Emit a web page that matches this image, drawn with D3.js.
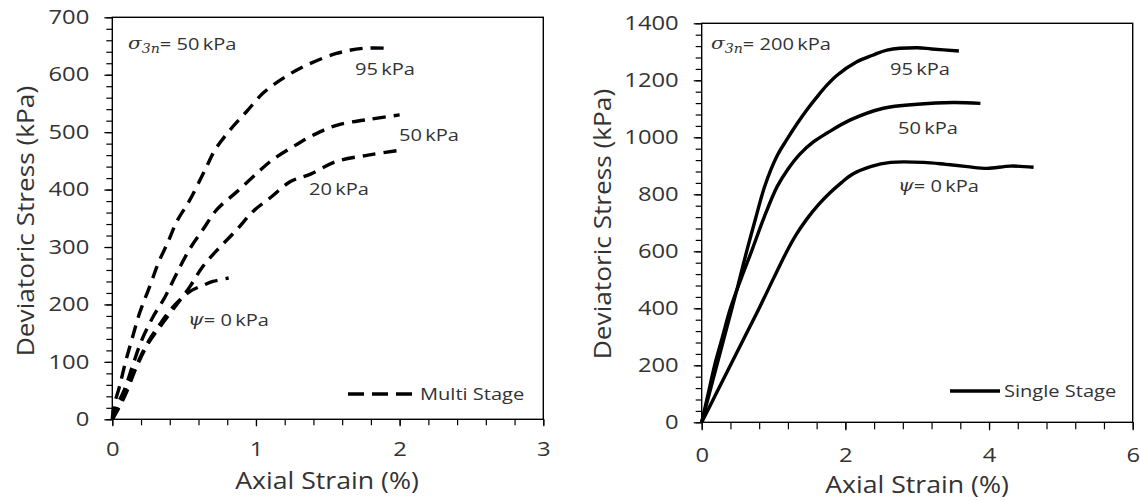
<!DOCTYPE html>
<html><head><meta charset="utf-8">
<script src="https://cdn.jsdelivr.net/npm/d3@7"></script>
<style>
body{margin:0;background:#fff}
text{font-family:'Open Sans',sans-serif;fill:#333}
</style>
</head><body>
<svg id="c" width="1140" height="500"></svg>
<script>
// ---------- DATA ----------
// Multi stage (left), sigma3n = 50 kPa
const multiStrain95 = [0,0.01,0.05,0.09,0.135,0.19,0.26,0.32,0.39,0.45,0.54,0.645,0.715,0.82,0.935,1.05,1.19,1.33,1.56,1.75,1.92];
const multiStress95 = [0,22,57,98,138,185,231,272,310,345,382,434,469,504,536,568,594,614,637,646,646];
const multiStrain50 = [0,0.03,0.088,0.146,0.205,0.285,0.367,0.448,0.54,0.63,0.727,0.866,1.005,1.11,1.26,1.40,1.56,1.78,2.0];
const multiStress50 = [0,22,54,97,138,179,213,254,297,330,365,396,428,451,475,495,512,522,530];
const multiStrain20 = [0,0.05,0.1,0.17,0.25,0.332,0.437,0.54,0.63,0.75,0.866,0.98,1.11,1.24,1.38,1.56,1.78,1.99];
const multiStress20 = [0,22,48,92,132,161,196,231,266,300,330,362,388,414,427,449,460,468];
const multiStrain0 = [0,0.05,0.1,0.17,0.25,0.33,0.41,0.48,0.55,0.62,0.70,0.81];
const multiStress0 = [0,25,55,95,135,165,192,210,224,232,240,246];

// Single stage (right), sigma3n = 200 kPa
const singleStrain95 = [0,0.1,0.2,0.3,0.4,0.5,0.63,0.75,0.88,1.05,1.18,1.32,1.46,1.60,1.74,1.88,2.16,2.38,2.58,3.0,3.2,3.58];
const singleStress95 = [0,95,190,285,380,475,604,715,830,935,990,1045,1095,1140,1182,1217,1265,1288,1306,1314,1310,1303];
const singleStrain50 = [0,0.09,0.18,0.29,0.4,0.55,0.70,0.87,1.05,1.2,1.37,1.55,1.74,2.07,2.53,3.0,3.5,3.88];
const singleStress50 = [0,100,200,300,400,505,604,720,827,888,942,983,1014,1061,1102,1116,1122,1119];
const singleStrain0 = [0,0.2,0.4,0.6,0.8,1.0,1.19,1.32,1.46,1.62,1.79,1.95,2.11,2.35,2.63,3.09,3.4,3.70,3.97,4.30,4.62];
const singleStress0 = [0,100,200,300,400,505,602,660,712,762,806,842,872,897,912,912,905,897,891,899,895];

// Axis ticks / labels
const leftXTicks = [0,1,2,3];
const leftYTicks = [0,100,200,300,400,500,600,700];
const rightXTicks = [0,2,4,6];
const rightYTicks = [0,200,400,600,800,1000,1200,1400];
const xTitle = "Axial Strain (%)";
const yTitle = "Deviatoric Stress (kPa)";
const leftSigma = "= 50\u2009kPa";
const rightSigma = "= 200\u2009kPa";
const curveLabels = ["95\u2009kPa","50\u2009kPa","20\u2009kPa","= 0\u2009kPa"];
const legendLeft = "Multi Stage";
const legendRight = "Single Stage";

// ---------- DRAW ----------
const svg = d3.select("#c");
const zip = (xs, ys) => xs.map((x,i)=>({x, y: ys[i]}));
const SX = 1.22;   // horizontal text stretch of the original picture

function stretch(sel, k){
  sel.each(function(){
    const t = d3.select(this);
    const x = +(t.attr("x")||0);
    t.attr("x", x/k).attr("transform", `scale(${k},1)`);
  });
}

function panel(o){
  const g = svg.append("g");
  const x = d3.scaleLinear().domain(o.xd).range([o.x0,o.x1]);
  const y = d3.scaleLinear().domain(o.yd).range([o.y0,o.y1]);
  const styleLines = s=>s.selectAll("line").attr("stroke","#000").attr("stroke-width",1.2);
  const styleText = s=>s.selectAll("text").attr("font-size",19.5).attr("font-family","'Open Sans',sans-serif").attr("fill","#333");
  // minor ticks
  g.append("g").attr("transform",`translate(${o.x0},0)`)
    .call(d3.axisLeft(y).tickValues(d3.range(o.yd[0], o.yd[1]+1e-9, o.yMinor)).tickSize(o.yTickMinor).tickFormat(""))
    .call(s=>s.select(".domain").remove()).call(styleLines);
  const yg = g.append("g").attr("transform",`translate(${o.x0},0)`)
    .call(d3.axisLeft(y).tickValues(o.yTicks).tickSize(o.yTickMajor).tickPadding(o.yPad).tickFormat(d3.format("d")))
    .call(s=>s.select(".domain").remove()).call(styleLines).call(styleText);
  stretch(yg.selectAll("text"), SX);
  g.append("g").attr("transform",`translate(0,${o.y0})`)
    .call(d3.axisBottom(x).tickValues(d3.range(o.xd[0], o.xd[1]+1e-9, o.xMinor)).tickSize(o.xTick).tickFormat(""))
    .call(s=>s.select(".domain").remove()).call(styleLines);
  const xg = g.append("g").attr("transform",`translate(0,${o.y0})`)
    .call(d3.axisBottom(x).tickValues(o.xTicks).tickSize(o.xTick+1).tickPadding(o.xPad).tickFormat(d3.format("d")))
    .call(s=>s.select(".domain").remove()).call(styleLines).call(styleText);
  stretch(xg.selectAll("text"), SX);
  // frame
  g.append("rect").attr("x",o.x0).attr("y",o.y1).attr("width",o.x1-o.x0).attr("height",o.y0-o.y1)
    .attr("fill","none").attr("stroke","#000").attr("stroke-width",1.4);
  // axis titles
  g.append("text").attr("transform",`translate(${o.xtX},${o.xtY}) scale(1.16,1)`).attr("text-anchor","middle").attr("dominant-baseline","central")
    .attr("font-size",23).text(xTitle);
  g.append("text").attr("transform",`translate(${o.ytX},${o.ytY}) rotate(-90) scale(1.14,1)`).attr("text-anchor","middle")
    .attr("dominant-baseline","central").attr("font-size",23).text(yTitle);
  // lines
  const line = d3.line().x(d=>x(d.x)).y(d=>y(d.y)).curve(d3.curveCatmullRom.alpha(0.5));
  o.series.forEach(s=>{
    g.append("path").attr("d",line(s)).attr("fill","none").attr("stroke","#000")
      .attr("stroke-width",3.4).attr("stroke-dasharray",o.dash||null).attr("stroke-linejoin","round");
  });
  return {g,x,y};
}

function txt(g, px, py){
  return g.append("text").attr("transform",`translate(${px},${py}) scale(1.18,1)`)
    .attr("dominant-baseline","central").attr("font-size",17);
}
function sigmaLabel(g, px, py, rest){
  const t = txt(g,px,py);
  t.append("tspan").attr("font-family","'DejaVu Serif',serif").attr("font-style","italic").text("\u03C3");
  t.append("tspan").attr("font-family","'DejaVu Serif',serif").attr("font-style","italic").attr("font-size",12).attr("dy",5).text("3n");
  t.append("tspan").attr("dy",-5).text(rest);
}
function psiLabel(g, px, py, rest){
  const t = txt(g,px,py);
  t.append("tspan").attr("font-family","'DejaVu Serif',serif").attr("font-style","italic").text("\u03C8");
  t.append("tspan").text(rest);
}
function label(g, px, py, s){ txt(g,px,py).text(s); }

// Left panel
const L = panel({
  xd:[0,3], yd:[0,700], x0:112.3, x1:543.3, y0:419.3, y1:17.3,
  xTicks:leftXTicks, yTicks:leftYTicks, xMinor:0.2, yMinor:20,
  yTickMajor:8, yTickMinor:6, xTick:6, yPad:15, xPad:16,
  xtX:327, xtY:480, ytX:25, ytY:221,
  dash:"13,8",
  series:[zip(multiStrain95,multiStress95),zip(multiStrain50,multiStress50),zip(multiStrain20,multiStress20),zip(multiStrain0,multiStress0)]
});
sigmaLabel(L.g,128,43,leftSigma);
label(L.g,355,68,curveLabels[0]);
label(L.g,399,134,curveLabels[1]);
label(L.g,309,188,curveLabels[2]);
psiLabel(L.g,188,319,curveLabels[3]);
L.g.append("line").attr("x1",348).attr("x2",413).attr("y1",394).attr("y2",394)
  .attr("stroke","#000").attr("stroke-width",3.4).attr("stroke-dasharray","16,8");
label(L.g,420,393,legendLeft);

// Right panel
const R = panel({
  xd:[0,6], yd:[0,1400], x0:701.7, x1:1132.7, y0:422.3, y1:23.3,
  xTicks:rightXTicks, yTicks:rightYTicks, xMinor:0.4, yMinor:40,
  yTickMajor:8, yTickMinor:6, xTick:7, yPad:15, xPad:18,
  xtX:917, xtY:484, ytX:602, ytY:224,
  dash:null,
  series:[zip(singleStrain95,singleStress95),zip(singleStrain50,singleStress50),zip(singleStrain0,singleStress0)]
});
sigmaLabel(R.g,711,43,rightSigma);
label(R.g,890,68,curveLabels[0]);
label(R.g,898,127,curveLabels[1]);
psiLabel(R.g,898,185,curveLabels[3]);
R.g.append("line").attr("x1",950).attr("x2",1000).attr("y1",391).attr("y2",391)
  .attr("stroke","#000").attr("stroke-width",3.4);
label(R.g,1004,390,legendRight);
</script>
</body></html>
